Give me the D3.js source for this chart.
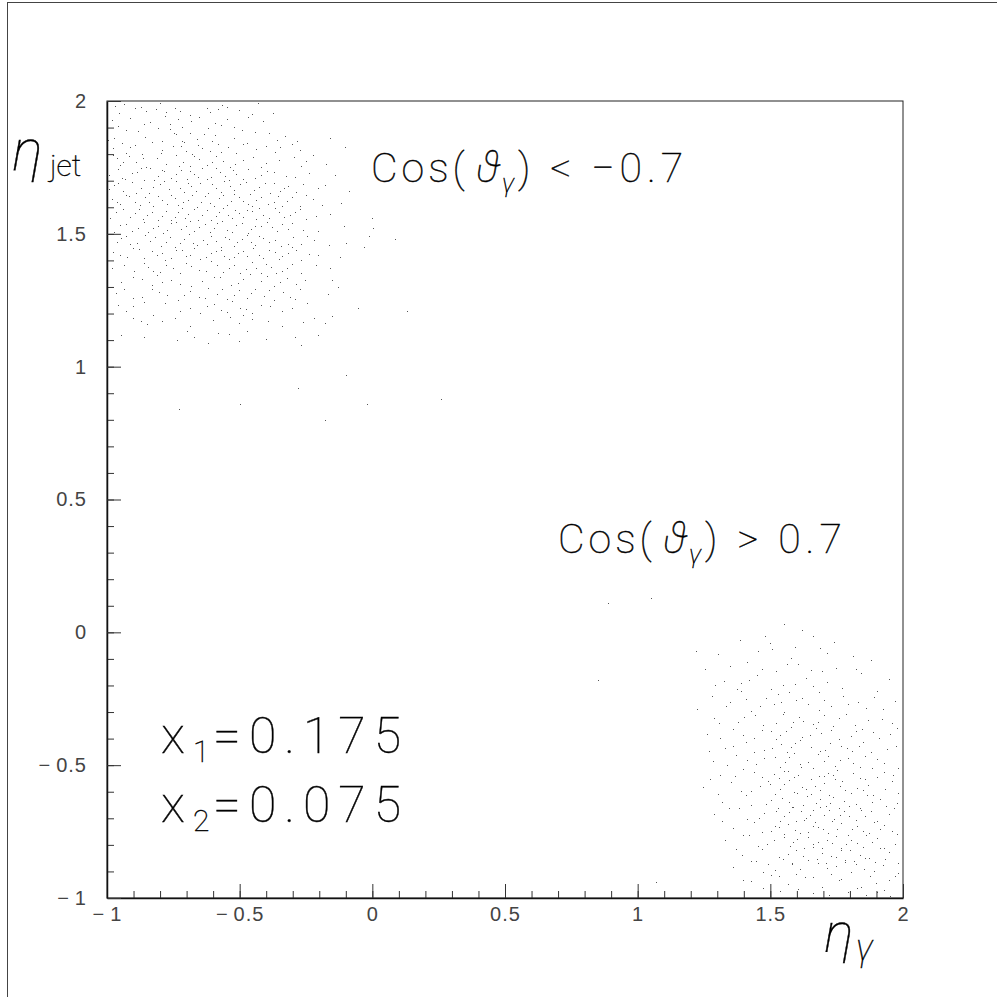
<!DOCTYPE html>
<html>
<head>
<meta charset="utf-8">
<script src="https://cdn.jsdelivr.net/npm/d3@7"></script>
<style>
  body { margin: 0; background: #fff; }
  svg { display: block; }
</style>
</head>
<body>
<script>

// events with Cos(theta_gamma) < -0.7 : eta_gamma, eta_jet pairs
const backwardEvents = [
  -0.968,1.981, -0.937,1.988, -0.872,1.976, -0.853,1.964, -0.817,1.970, -0.779,1.958, -0.744,1.972, -0.726,1.961, -0.623,1.975, -0.611,1.957, -0.581,1.969, -0.566,1.984, -0.548,1.979, -0.431,1.992, -0.373,1.955,
  -0.982,1.928, -0.958,1.907, -0.913,1.936, -0.838,1.921, -0.807,1.899, -0.781,1.943, -0.764,1.915, -0.733,1.931, -0.716,1.903, -0.684,1.926, -0.652,1.941, -0.619,1.897, -0.593,1.918, -0.571,1.909, -0.468,1.938, -0.412,1.924, -0.523,1.902,
  -0.972,1.862, -0.884,1.887, -0.792,1.851, -0.763,1.893, -0.741,1.874, -0.709,1.846, -0.689,1.879, -0.662,1.858, -0.594,1.871, -0.441,1.883, -0.358,1.855, -0.331,1.868, -0.158,1.861,
  -0.978,1.823, -0.944,1.841, -0.927,1.806, -0.893,1.834, -0.868,1.802, -0.832,1.845, -0.794,1.817, -0.752,1.829, -0.718,1.848, -0.703,1.811, -0.679,1.801, -0.658,1.836, -0.641,1.822, -0.611,1.813, -0.582,1.839, -0.543,1.827, -0.512,1.805, -0.474,1.843, -0.437,1.819, -0.402,1.832, -0.368,1.808, -0.302,1.837, -0.271,1.815, -0.104,1.826,
  -0.963,1.784, -0.951,1.758, -0.918,1.793, -0.892,1.769, -0.853,1.752, -0.811,1.787, -0.776,1.763, -0.741,1.796, -0.712,1.771, -0.687,1.755, -0.654,1.781, -0.623,1.759, -0.591,1.792, -0.562,1.776, -0.537,1.751, -0.489,1.779, -0.402,1.766, -0.297,1.788, -0.268,1.757, -0.249,1.774,
  -0.991,1.722, -0.957,1.743, -0.931,1.708, -0.886,1.731, -0.862,1.703, -0.838,1.746, -0.809,1.718, -0.784,1.736, -0.757,1.712, -0.722,1.741, -0.698,1.705, -0.671,1.727, -0.642,1.749, -0.607,1.715, -0.573,1.734, -0.541,1.701, -0.513,1.726, -0.468,1.744, -0.443,1.709, -0.372,1.732, -0.327,1.716,
  -0.973,1.683, -0.938,1.662, -0.907,1.695, -0.871,1.671, -0.843,1.654, -0.802,1.688, -0.768,1.667, -0.741,1.698, -0.709,1.658, -0.683,1.679, -0.648,1.691, -0.621,1.653, -0.588,1.674, -0.559,1.699, -0.523,1.664, -0.497,1.686, -0.462,1.651, -0.428,1.676, -0.371,1.693, -0.348,1.661, -0.316,1.681, -0.287,1.657, -0.261,1.689, -0.203,1.672,
  -0.982,1.632, -0.951,1.611, -0.928,1.645, -0.893,1.618, -0.857,1.637, -0.826,1.604, -0.791,1.626, -0.758,1.648, -0.733,1.609, -0.694,1.629, -0.662,1.601, -0.631,1.641, -0.612,1.615, -0.578,1.634, -0.547,1.607, -0.521,1.649, -0.487,1.622, -0.453,1.603, -0.418,1.638, -0.392,1.613, -0.356,1.644, -0.322,1.625, -0.274,1.606, -0.224,1.631, -0.118,1.617,
  -0.966,1.581, -0.912,1.562, -0.879,1.594, -0.851,1.571, -0.809,1.553, -0.777,1.586, -0.742,1.565, -0.718,1.598, -0.693,1.574, -0.657,1.551, -0.623,1.589, -0.589,1.567, -0.562,1.596, -0.528,1.558, -0.502,1.578, -0.471,1.591, -0.438,1.554, -0.413,1.572, -0.367,1.599, -0.333,1.563, -0.291,1.584, -0.249,1.557, -0.158,1.575,
  -0.951,1.534, -0.906,1.512, -0.862,1.546, -0.827,1.521, -0.788,1.503, -0.757,1.539, -0.721,1.517, -0.688,1.548, -0.652,1.526, -0.613,1.506, -0.584,1.541, -0.548,1.514, -0.512,1.533, -0.469,1.502, -0.443,1.528, -0.398,1.545, -0.361,1.509, -0.342,1.537, -0.317,1.519, -0.203,1.511, -0.108,1.531, 0.002,1.522,
  -0.948,1.483, -0.913,1.461, -0.857,1.494, -0.838,1.472, -0.797,1.453, -0.762,1.487, -0.723,1.466, -0.692,1.498, -0.659,1.458, -0.638,1.476, -0.607,1.491, -0.572,1.452, -0.541,1.479, -0.509,1.468, -0.473,1.496, -0.441,1.457, -0.412,1.484, -0.388,1.471, -0.343,1.455, -0.298,1.489, -0.268,1.463, -0.221,1.478, -0.099,1.467, -0.032,1.451, -0.012,1.492,
  -0.976,1.433, -0.923,1.412, -0.879,1.444, -0.812,1.421, -0.781,1.403, -0.739,1.438, -0.702,1.416, -0.671,1.447, -0.648,1.407, -0.608,1.426, -0.572,1.441, -0.541,1.404, -0.507,1.429, -0.472,1.418, -0.448,1.446, -0.411,1.409, -0.368,1.432, -0.339,1.415, -0.302,1.449, -0.268,1.401, -0.238,1.424, -0.122,1.413,
  -0.982,1.372, -0.862,1.391, -0.828,1.359, -0.777,1.383, -0.723,1.352, -0.683,1.378, -0.652,1.364, -0.609,1.396, -0.561,1.357, -0.521,1.381, -0.478,1.368, -0.452,1.393, -0.419,1.354, -0.382,1.376, -0.342,1.361, -0.303,1.388, -0.268,1.351, -0.159,1.373,
  -0.869,1.331, -0.832,1.308, -0.811,1.344, -0.792,1.319, -0.683,1.302, -0.598,1.337, -0.508,1.314, -0.462,1.347, -0.421,1.323, -0.372,1.305, -0.322,1.334, -0.289,1.312, -0.152,1.328, -0.131,1.301,
  -0.967,1.278, -0.903,1.257, -0.831,1.293, -0.772,1.268, -0.731,1.251, -0.688,1.284, -0.652,1.263, -0.619,1.297, -0.587,1.272, -0.548,1.254, -0.502,1.288, -0.473,1.259, -0.441,1.291, -0.408,1.267, -0.372,1.252, -0.338,1.281, -0.309,1.262, -0.272,1.294, -0.168,1.273,
  -0.958,1.232, -0.928,1.211, -0.861,1.244, -0.688,1.219, -0.651,1.203, -0.598,1.237, -0.572,1.214, -0.529,1.247, -0.498,1.222, -0.452,1.201, -0.418,1.234, -0.341,1.208, -0.247,1.241, -0.053,1.219,
  -0.902,1.182, -0.851,1.161, -0.828,1.193, -0.791,1.172, -0.688,1.153, -0.538,1.187, -0.502,1.164, -0.487,1.196, -0.392,1.171, -0.341,1.152, -0.221,1.184, -0.178,1.163, -0.152,1.191,
  -0.947,1.121, -0.738,1.102, -0.698,1.133, -0.671,1.113, -0.618,1.089, -0.541,1.124, -0.502,1.098, -0.472,1.136, -0.293,1.111, -0.268,1.082, -0.203,1.119,
  -0.953,1.954, -0.896,1.972, -0.801,1.991, -0.688,1.949, -0.502,1.967, -0.455,1.952,
  -0.927,1.889, -0.862,1.912, -0.746,1.881, -0.633,1.877, -0.548,1.934, -0.493,1.891, -0.389,1.879,
  -0.997,1.852, -0.912,1.827, -0.857,1.866, -0.722,1.832, -0.603,1.849, -0.522,1.862, -0.486,1.838, -0.349,1.827, -0.283,1.851,
  -0.977,1.798, -0.938,1.771, -0.866,1.785, -0.797,1.806, -0.727,1.754, -0.673,1.793, -0.605,1.772, -0.572,1.808, -0.519,1.762, -0.451,1.791, -0.418,1.753, -0.352,1.779, -0.223,1.797, -0.176,1.763,
  -0.944,1.712, -0.907,1.729, -0.873,1.747, -0.823,1.702, -0.793,1.739, -0.741,1.726, -0.687,1.736, -0.658,1.714, -0.622,1.708, -0.589,1.747, -0.556,1.719, -0.527,1.741, -0.487,1.707, -0.419,1.721, -0.398,1.738, -0.291,1.713, -0.238,1.728, -0.139,1.721,
  -0.991,1.667, -0.958,1.691, -0.889,1.654, -0.826,1.676, -0.787,1.699, -0.726,1.673, -0.696,1.692, -0.664,1.661, -0.603,1.687, -0.571,1.658, -0.538,1.681, -0.478,1.696, -0.446,1.664, -0.403,1.691, -0.387,1.652, -0.333,1.671, -0.178,1.684, -0.088,1.662,
  -0.962,1.619, -0.917,1.641, -0.876,1.608, -0.843,1.621, -0.808,1.643, -0.774,1.611, -0.743,1.633, -0.712,1.618, -0.679,1.646, -0.647,1.619, -0.596,1.603, -0.563,1.647, -0.533,1.624, -0.503,1.639, -0.468,1.612, -0.437,1.627, -0.372,1.618, -0.341,1.603, -0.303,1.639, -0.251,1.645, -0.191,1.609,
  -0.988,1.561, -0.941,1.593, -0.896,1.577, -0.863,1.556, -0.829,1.583, -0.793,1.569, -0.759,1.552, -0.731,1.581, -0.707,1.558, -0.673,1.593, -0.641,1.571, -0.607,1.552, -0.577,1.583, -0.543,1.571, -0.517,1.591, -0.487,1.563, -0.452,1.586, -0.427,1.597, -0.389,1.559, -0.352,1.581, -0.312,1.571, -0.271,1.593, -0.213,1.566,
  -0.973,1.507, -0.928,1.538, -0.883,1.523, -0.846,1.507, -0.809,1.531, -0.773,1.516, -0.739,1.543, -0.703,1.529, -0.672,1.511, -0.632,1.537, -0.598,1.521, -0.566,1.547, -0.529,1.508, -0.493,1.541, -0.457,1.517, -0.421,1.531, -0.379,1.524, -0.301,1.539, -0.262,1.514,
  -0.963,1.471, -0.928,1.493, -0.887,1.466, -0.818,1.488, -0.779,1.471, -0.742,1.451, -0.708,1.482, -0.674,1.467, -0.623,1.461, -0.591,1.473, -0.557,1.489, -0.523,1.454, -0.492,1.482, -0.457,1.468, -0.426,1.492, -0.366,1.478, -0.319,1.463, -0.247,1.491, -0.163,1.458,
  -0.952,1.421, -0.901,1.447, -0.862,1.409, -0.831,1.437, -0.793,1.428, -0.757,1.409, -0.719,1.439, -0.687,1.422, -0.627,1.411, -0.591,1.437, -0.558,1.418, -0.523,1.412, -0.488,1.437, -0.429,1.422, -0.391,1.441, -0.353,1.406, -0.319,1.427, -0.287,1.441, -0.203,1.419,
  -0.937,1.381, -0.898,1.361, -0.846,1.374, -0.801,1.357, -0.751,1.372, -0.703,1.391, -0.628,1.359, -0.587,1.384, -0.541,1.372, -0.499,1.353, -0.437,1.371, -0.401,1.387, -0.362,1.352, -0.322,1.372, -0.213,1.384,
  -0.947,1.319, -0.903,1.338, -0.758,1.327, -0.723,1.312, -0.642,1.322, -0.573,1.339, -0.531,1.307, -0.488,1.329, -0.398,1.341, -0.347,1.318, -0.253,1.327,
  -0.937,1.293, -0.868,1.262, -0.803,1.281, -0.709,1.271, -0.631,1.258, -0.567,1.291, -0.523,1.271, -0.457,1.279, -0.389,1.287, -0.291,1.256,
  -0.903,1.227, -0.781,1.238, -0.723,1.209, -0.623,1.228, -0.547,1.207, -0.477,1.216, -0.387,1.229, -0.303,1.219,
  -0.872,1.172, -0.743,1.183, -0.602,1.174, -0.452,1.181, -0.263,1.169,
  -0.862,1.112, -0.583,1.127, -0.401,1.103
];

// events with Cos(theta_gamma) > 0.7 : eta_gamma, eta_jet pairs
const forwardEvents = [
  1.553,0.031, 1.618,0.008,
  1.384,-0.027, 1.497,-0.041, 1.662,-0.012, 1.741,-0.036,
  1.302,-0.083, 1.452,-0.071, 1.577,-0.096, 1.688,-0.058, 1.812,-0.089, 1.507,-0.064,
  1.254,-0.138, 1.413,-0.112, 1.523,-0.147, 1.604,-0.121, 1.748,-0.133, 1.879,-0.106, 1.652,-0.142,
  1.327,-0.183, 1.449,-0.162, 1.548,-0.197, 1.633,-0.171, 1.712,-0.188, 1.843,-0.154, 1.948,-0.176, 1.389,-0.191,
  1.281,-0.238, 1.376,-0.212, 1.483,-0.246, 1.569,-0.224, 1.661,-0.203, 1.772,-0.241, 1.902,-0.219, 1.528,-0.232, 1.619,-0.249,
  1.223,-0.287, 1.347,-0.263, 1.428,-0.296, 1.512,-0.271, 1.598,-0.254, 1.684,-0.292, 1.791,-0.268, 1.862,-0.283, 1.968,-0.259, 1.553,-0.298, 1.729,-0.277,
  1.308,-0.341, 1.402,-0.318, 1.471,-0.347, 1.547,-0.306, 1.623,-0.332, 1.702,-0.313, 1.818,-0.349, 1.921,-0.327, 1.586,-0.336, 1.659,-0.344, 1.759,-0.322,
  1.262,-0.383, 1.358,-0.362, 1.437,-0.396, 1.503,-0.371, 1.579,-0.357, 1.648,-0.388, 1.727,-0.366, 1.803,-0.392, 1.887,-0.374, 1.977,-0.359, 1.538,-0.387, 1.691,-0.379, 1.846,-0.364,
  1.331,-0.437, 1.409,-0.414, 1.478,-0.443, 1.542,-0.421, 1.612,-0.406, 1.687,-0.448, 1.768,-0.426, 1.851,-0.411, 1.938,-0.439, 1.577,-0.432, 1.726,-0.417, 1.809,-0.446,
  1.283,-0.483, 1.371,-0.462, 1.447,-0.497, 1.518,-0.471, 1.589,-0.456, 1.643,-0.489, 1.719,-0.467, 1.812,-0.493, 1.903,-0.476, 1.556,-0.488, 1.681,-0.459, 1.762,-0.481, 1.858,-0.464,
  1.312,-0.538, 1.398,-0.514, 1.468,-0.546, 1.552,-0.523, 1.617,-0.507, 1.684,-0.541, 1.753,-0.518, 1.838,-0.549, 1.929,-0.527, 1.513,-0.533, 1.588,-0.544, 1.718,-0.529, 1.882,-0.511,
  1.247,-0.582, 1.353,-0.563, 1.429,-0.596, 1.497,-0.571, 1.571,-0.557, 1.634,-0.589, 1.702,-0.568, 1.781,-0.593, 1.869,-0.574, 1.958,-0.561, 1.538,-0.591, 1.667,-0.578, 1.742,-0.552, 1.826,-0.587,
  1.318,-0.637, 1.408,-0.613, 1.482,-0.648, 1.543,-0.622, 1.601,-0.606, 1.672,-0.641, 1.738,-0.619, 1.821,-0.646, 1.912,-0.628, 1.571,-0.639, 1.639,-0.617, 1.708,-0.652, 1.779,-0.633, 1.863,-0.611,
  1.288,-0.684, 1.382,-0.663, 1.457,-0.697, 1.521,-0.672, 1.583,-0.656, 1.649,-0.689, 1.722,-0.667, 1.798,-0.693, 1.879,-0.674, 1.967,-0.661, 1.553,-0.691, 1.614,-0.673, 1.689,-0.659, 1.762,-0.686, 1.843,-0.669,
  1.361,-0.737, 1.438,-0.714, 1.502,-0.746, 1.567,-0.721, 1.628,-0.707, 1.697,-0.742, 1.768,-0.719, 1.849,-0.748, 1.929,-0.726, 1.534,-0.732, 1.662,-0.728, 1.731,-0.711, 1.807,-0.739, 1.892,-0.713,
  1.331,-0.783, 1.418,-0.762, 1.488,-0.796, 1.551,-0.771, 1.612,-0.757, 1.679,-0.788, 1.748,-0.766, 1.828,-0.792, 1.901,-0.774, 1.976,-0.759, 1.586,-0.791, 1.642,-0.769, 1.712,-0.781, 1.787,-0.797, 1.862,-0.763,
  1.392,-0.837, 1.468,-0.814, 1.532,-0.846, 1.598,-0.821, 1.661,-0.807, 1.729,-0.842, 1.802,-0.818, 1.871,-0.848, 1.948,-0.826, 1.567,-0.833, 1.693,-0.829, 1.768,-0.811, 1.838,-0.839, 1.912,-0.813,
  1.358,-0.883, 1.447,-0.862, 1.518,-0.896, 1.581,-0.871, 1.643,-0.857, 1.712,-0.888, 1.783,-0.866, 1.852,-0.892, 1.923,-0.874, 1.612,-0.891, 1.681,-0.869, 1.748,-0.879, 1.817,-0.861, 1.889,-0.897,
  1.429,-0.937, 1.503,-0.914, 1.568,-0.946, 1.632,-0.921, 1.693,-0.957, 1.758,-0.933, 1.827,-0.961, 1.897,-0.942, 1.968,-0.918, 1.538,-0.972, 1.661,-0.981, 1.793,-0.976, 1.862,-0.987, 1.927,-0.969,
  1.481,-0.012, 1.592,-0.057, 1.712,-0.078,
  1.348,-0.126, 1.467,-0.138, 1.561,-0.118, 1.693,-0.147, 1.821,-0.138,
  1.291,-0.197, 1.418,-0.178, 1.503,-0.213, 1.592,-0.193, 1.683,-0.226, 1.771,-0.208, 1.889,-0.243,
  1.332,-0.276, 1.407,-0.251, 1.462,-0.279, 1.541,-0.261, 1.642,-0.271, 1.703,-0.256, 1.832,-0.262, 1.923,-0.288,
  1.286,-0.323, 1.377,-0.338, 1.443,-0.311, 1.521,-0.343, 1.607,-0.318, 1.681,-0.337, 1.738,-0.351, 1.786,-0.308, 1.867,-0.331, 1.958,-0.342,
  1.311,-0.398, 1.397,-0.387, 1.468,-0.368, 1.521,-0.402, 1.559,-0.371, 1.618,-0.393, 1.672,-0.359, 1.759,-0.401, 1.823,-0.373, 1.911,-0.396, 1.952,-0.381,
  1.268,-0.446, 1.358,-0.428, 1.437,-0.452, 1.508,-0.437, 1.561,-0.449, 1.593,-0.418, 1.652,-0.431, 1.707,-0.442, 1.788,-0.437, 1.833,-0.428, 1.878,-0.452, 1.972,-0.427,
  1.338,-0.501, 1.412,-0.482, 1.478,-0.473, 1.537,-0.508, 1.571,-0.471, 1.612,-0.497, 1.662,-0.511, 1.701,-0.483, 1.743,-0.502, 1.791,-0.473, 1.837,-0.507, 1.928,-0.492, 1.983,-0.511,
  1.273,-0.552, 1.367,-0.541, 1.438,-0.527, 1.491,-0.558, 1.533,-0.549, 1.567,-0.521, 1.603,-0.538, 1.652,-0.553, 1.702,-0.541, 1.737,-0.537, 1.771,-0.559, 1.812,-0.528, 1.858,-0.551, 1.903,-0.543, 1.961,-0.536,
  1.303,-0.608, 1.389,-0.597, 1.462,-0.578, 1.517,-0.609, 1.553,-0.571, 1.588,-0.601, 1.621,-0.582, 1.652,-0.607, 1.689,-0.592, 1.721,-0.611, 1.763,-0.579, 1.803,-0.603, 1.848,-0.592, 1.888,-0.613, 1.932,-0.589, 1.982,-0.604,
  1.343,-0.662, 1.427,-0.651, 1.503,-0.632, 1.528,-0.663, 1.587,-0.657, 1.622,-0.649, 1.659,-0.667, 1.689,-0.628, 1.723,-0.642, 1.757,-0.661, 1.797,-0.652, 1.839,-0.663, 1.882,-0.639, 1.937,-0.652, 1.978,-0.641,
  1.317,-0.712, 1.412,-0.703, 1.478,-0.681, 1.538,-0.709, 1.569,-0.678, 1.598,-0.711, 1.633,-0.697, 1.668,-0.713, 1.703,-0.688, 1.741,-0.702, 1.779,-0.671, 1.821,-0.707, 1.857,-0.691, 1.903,-0.711, 1.948,-0.683,
  1.397,-0.761, 1.467,-0.752, 1.519,-0.729, 1.553,-0.759, 1.593,-0.743, 1.641,-0.751, 1.681,-0.733, 1.717,-0.757, 1.752,-0.741, 1.791,-0.762, 1.827,-0.728, 1.871,-0.757, 1.913,-0.741, 1.958,-0.748,
  1.372,-0.817, 1.452,-0.803, 1.512,-0.781, 1.573,-0.806, 1.601,-0.779, 1.627,-0.813, 1.661,-0.798, 1.693,-0.812, 1.731,-0.793, 1.767,-0.819, 1.803,-0.781, 1.848,-0.809, 1.883,-0.789, 1.927,-0.811, 1.968,-0.797,
  1.428,-0.859, 1.492,-0.871, 1.548,-0.852, 1.583,-0.869, 1.622,-0.841, 1.676,-0.852, 1.711,-0.868, 1.748,-0.847, 1.783,-0.857, 1.821,-0.872, 1.857,-0.849, 1.893,-0.866, 1.933,-0.853, 1.982,-0.868,
  1.398,-0.931, 1.471,-0.903, 1.533,-0.917, 1.598,-0.908, 1.662,-0.922, 1.727,-0.911, 1.767,-0.927, 1.803,-0.903, 1.877,-0.918, 1.948,-0.931, 1.983,-0.907,
  1.471,-0.962, 1.603,-0.968, 1.722,-0.988, 1.843,-0.958, 1.903,-0.979, 1.952,-0.992
];

// isolated events between the two groups
const strayEvents = [
  0.89,0.11, 1.05,0.13, 1.22,-0.07, 0.85,-0.18, 1.39,-0.22, 1.07,-0.94,
  0.13,1.21, -0.73,0.84, -0.50,0.86, -0.28,0.92, -0.18,0.80, -0.10,0.97,
  -0.02,0.86, 0.26,0.88, 0.00,1.56, 0.085,1.48
];

const xMajorTicks = [-1, -0.5, 0, 0.5, 1, 1.5, 2];
const xTickLabels = ["\u2212\u20091", "\u2212\u20090.5", "0", "0.5", "1", "1.5", "2"];
const yMajorTicks = [-1, -0.5, 0, 0.5, 1, 1.5, 2];
const yTickLabels = ["\u2212\u20091", "\u2212\u20090.5", "0", "0.5", "1", "1.5", "2"];
const minorTicks = d3.range(-10, 21).map(i => i / 10);

const toPairs = arr => d3.range(0, arr.length, 2).map(i => [arr[i], arr[i + 1]]);

const W = 997, H = 997;
const frame = { left: 107, top: 101, right: 903, bottom: 898 };

const svg = d3.select("body").append("svg")
    .attr("width", W)
    .attr("height", H);

// page border
svg.append("rect")
    .attr("x", 7.5).attr("y", 2.5)
    .attr("width", 1000).attr("height", 1000)
    .attr("fill", "none")
    .attr("stroke", "#444")
    .attr("stroke-width", 1);

const xScale = d3.scaleLinear().domain([-1, 2]).range([frame.left, frame.right]);
const yScale = d3.scaleLinear().domain([-1, 2]).range([frame.bottom, frame.top]);

// frame
svg.append("rect")
    .attr("x", frame.left).attr("y", frame.top)
    .attr("width", frame.right - frame.left)
    .attr("height", frame.bottom - frame.top)
    .attr("fill", "none")
    .attr("stroke", "#222")
    .attr("stroke-width", 1);

// points
const allPoints = toPairs(backwardEvents).concat(toPairs(forwardEvents), toPairs(strayEvents));
svg.append("g")
    .attr("fill", "#555")
    .attr("shape-rendering", "crispEdges")
    .selectAll("rect")
    .data(allPoints)
    .join("rect")
    .attr("x", d => Math.round(xScale(d[0])))
    .attr("y", d => Math.round(yScale(d[1])))
    .attr("width", 1)
    .attr("height", 1);

// axes: minor ticks then major ticks with labels
svg.append("g")
    .attr("transform", `translate(0,${frame.bottom})`)
    .call(d3.axisBottom(xScale).tickValues(minorTicks).tickSize(-7).tickSizeOuter(0).tickFormat(""))
    .call(g => g.select(".domain").remove());

svg.append("g")
    .attr("transform", `translate(${frame.left},0)`)
    .call(d3.axisLeft(yScale).tickValues(minorTicks).tickSize(-7).tickSizeOuter(0).tickFormat(""))
    .call(g => g.select(".domain").remove());

svg.append("g")
    .attr("transform", `translate(0,${frame.bottom})`)
    .call(d3.axisBottom(xScale).tickValues(xMajorTicks).tickSize(-14).tickSizeOuter(0)
        .tickPadding(9).tickFormat((d, i) => xTickLabels[i]));

svg.append("g")
    .attr("transform", `translate(${frame.left},0)`)
    .call(d3.axisLeft(yScale).tickValues(yMajorTicks).tickSize(-14).tickSizeOuter(0)
        .tickPadding(20).tickFormat((d, i) => yTickLabels[i]));

svg.selectAll(".tick line").attr("stroke", "#333");
svg.selectAll(".domain").attr("stroke", "#111").attr("stroke-width", 1.5);
svg.selectAll(".tick text")
    .attr("font-family", "'Liberation Sans', Arial, sans-serif")
    .attr("font-size", 20)
    .attr("letter-spacing", 1)
    .attr("fill", "#444");

// thin text, close to the stroked plotter font of the original
const thinFont = "Roboto, 'Open Sans', sans-serif";

// one <text> per label, pieces placed with absolute x / y
function addLabel(parts) {
    const t = svg.append("text")
        .attr("font-family", thinFont)
        .attr("font-weight", 100)
        .attr("fill", "#000")
        .attr("stroke", "#000")
        .attr("stroke-width", 0.4);
    parts.forEach(p => {
        t.append("tspan")
            .attr("x", p.x).attr("y", p.y)
            .attr("font-size", p.size)
            .attr("font-style", p.italic ? "italic" : null)
            .attr("letter-spacing", p.ls || null)
            .text(p.text);
    });
    return t;
}

// y axis title
addLabel([
    { x: 12, y: 170, size: 58, text: "\u03b7", italic: true },
    { x: 50, y: 176, size: 30, text: "jet" }
]);

// x axis title
addLabel([
    { x: 824, y: 952, size: 56, text: "\u03b7", italic: true },
    { x: 856, y: 960, size: 36, text: "\u03b3", italic: true }
]);

addLabel([
    { x: 371, y: 182, size: 41, text: "Cos(", ls: 4 },
    { x: 476, y: 182, size: 44, text: "\u03d1", italic: true },
    { x: 502, y: 192, size: 26, text: "\u03b3", italic: true },
    { x: 518, y: 182, size: 41, text: ") < \u22120.7", ls: 5 }
]);

addLabel([
    { x: 558, y: 553, size: 41, text: "Cos(", ls: 4 },
    { x: 663, y: 553, size: 44, text: "\u03d1", italic: true },
    { x: 689, y: 563, size: 26, text: "\u03b3", italic: true },
    { x: 705, y: 553, size: 41, text: ") > 0.7", ls: 5 }
]);

addLabel([
    { x: 161, y: 753, size: 50, text: "x" },
    { x: 193, y: 762, size: 30, text: "1" },
    { x: 213, y: 753, size: 50, text: "=0.175", ls: 8 }
]);

addLabel([
    { x: 161, y: 822, size: 50, text: "x" },
    { x: 193, y: 831, size: 30, text: "2" },
    { x: 213, y: 822, size: 50, text: "=0.075", ls: 8 }
]);

</script>
</body>
</html>
